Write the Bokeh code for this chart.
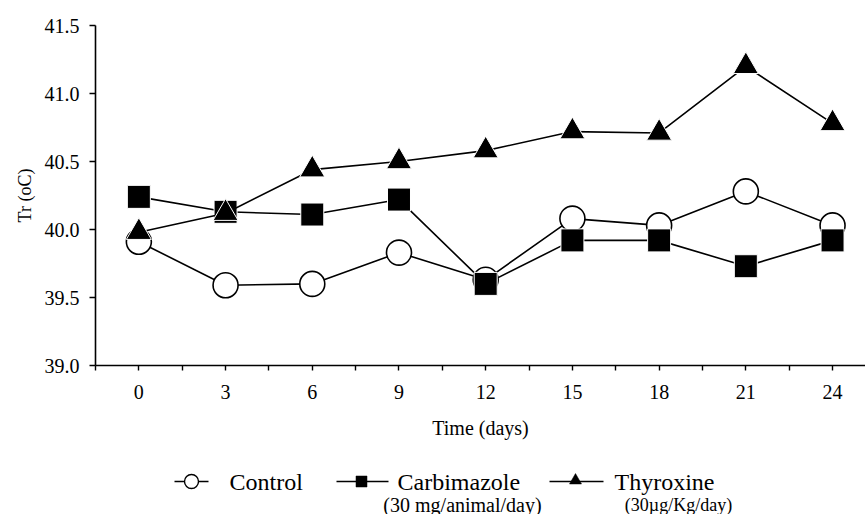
from bokeh.plotting import figure
from bokeh.layouts import column
from bokeh.models import Range1d, FixedTicker, NumeralTickFormatter
from bokeh.core.properties import value
from bokeh.embed import file_html
from bokeh.resources import INLINE

# ---- data ----
days = [0, 3, 6, 9, 12, 15, 18, 21, 24]
control = [39.91, 39.59, 39.60, 39.83, 39.63, 40.08, 40.03, 40.28, 40.03]
carbimazole = [40.24, 40.13, 40.11, 40.22, 39.60, 39.92, 39.92, 39.73, 39.92]
thyroxine = [39.98, 40.12, 40.44, 40.50, 40.58, 40.72, 40.71, 41.20, 40.78]
y_ticks = [39.0, 39.5, 40.0, 40.5, 41.0, 41.5]
x_minor_ticks = [-1.5, 1.5, 4.5, 7.5, 10.5, 13.5, 16.5, 19.5, 22.5]
series_names = ["Control", "Carbimazole", "Thyroxine"]
series_notes = ["(30 mg/animal/day)", "(30\u00b5g/Kg/day)"]
x_title = "Time (days)"
y_title = "Tr (oC)"

FONT_NAME = "'Liberation Serif'"
FONT = value("Liberation Serif")
W = 865
LEFT = 95

p = figure(width=W, height=450, x_range=Range1d(-1.5, 25.14), y_range=Range1d(39.0, 41.5),
           output_backend="svg", toolbar_location=None,
           min_border_left=LEFT, min_border_right=0, min_border_top=25, min_border_bottom=85)
p.outline_line_color = None
p.xgrid.visible = False
p.ygrid.visible = False
p.background_fill_color = "white"
p.border_fill_color = "white"

p.axis.axis_line_color = "black"
p.axis.axis_line_width = 1.6
p.axis.major_tick_line_color = "black"
p.axis.major_tick_line_width = 1.4
p.axis.minor_tick_line_color = "black"
p.axis.minor_tick_line_width = 1.4
p.axis.major_tick_in = 0
p.axis.major_tick_out = 5
p.axis.minor_tick_in = 0
p.axis.minor_tick_out = 5
p.axis.major_label_text_font = FONT_NAME
p.axis.major_label_text_font_size = "20px"
p.axis.major_label_text_color = "black"
p.axis.axis_label_text_font = FONT_NAME
p.axis.axis_label_text_font_style = "normal"
p.axis.axis_label_text_color = "black"

p.xaxis.ticker = FixedTicker(ticks=days, minor_ticks=x_minor_ticks)
p.xaxis.major_label_standoff = 14
p.xaxis.axis_label = x_title
p.xaxis.axis_label_text_font_size = "20px"
p.xaxis.axis_label_standoff = 15

p.yaxis.ticker = FixedTicker(ticks=y_ticks, minor_ticks=[])
p.yaxis.formatter = NumeralTickFormatter(format="0.0")
p.yaxis.major_tick_out = 6
p.yaxis.major_label_standoff = 10
p.yaxis.axis_label = y_title
p.yaxis.axis_label_text_font_size = "18px"
p.yaxis.axis_label_standoff = 7

LW = 1.6
p.line(days, control, line_color="black", line_width=LW)
p.scatter(days, control, marker="circle", size=25, fill_color="white", line_color="black", line_width=1.6)
p.line(days, carbimazole, line_color="black", line_width=LW)
p.scatter(days, carbimazole, marker="square", size=23, fill_color="black", line_color="white", line_width=1)
p.line(days, thyroxine, line_color="black", line_width=LW)
p.scatter(days, thyroxine, marker="triangle", size=25, fill_color="black", line_color="white", line_width=1)

# ---- legend (pixel-space figure, frame aligned with the main frame) ----
LH = 64
lg = figure(width=W, height=LH, x_range=Range1d(LEFT, W), y_range=Range1d(0, LH),
            output_backend="svg", toolbar_location=None,
            min_border_left=LEFT, min_border_right=0, min_border_top=0, min_border_bottom=0,
            x_axis_type=None, y_axis_type=None)
lg.outline_line_color = None
lg.background_fill_color = "white"
lg.border_fill_color = "white"

row_y = 33
note_y = 10
key_lines = [(174, 208), (336, 388), (549, 603)]
key_x = [191, 361, 575]
text_x = [229, 397, 614]
note_x = [462, 678]
note_sizes = ["20px", "18px"]

for (x0, x1) in key_lines:
    lg.line([x0, x1], [row_y, row_y], line_color="black", line_width=1.6)
lg.scatter([key_x[0]], [row_y], marker="circle", size=14, fill_color="white", line_color="black", line_width=1.4)
lg.scatter([key_x[1]], [row_y], marker="square", size=11, fill_color="black", line_color="black", line_width=0.5)
lg.scatter([key_x[2]], [row_y + 1], marker="triangle", size=12, fill_color="black", line_color="black", line_width=0.5)
lg.text(x=text_x, y=[row_y] * 3, text=series_names, text_font=FONT, text_font_size="24px",
        text_baseline="middle", text_align="left", text_color="black")
for nx, nt, ns in zip(note_x, series_notes, note_sizes):
    lg.text(x=[nx], y=[note_y], text=[nt], text_font=FONT, text_font_size=ns,
            text_baseline="middle", text_align="center", text_color="black")

layout = column(p, lg, spacing=0)
open("out.html", "w").write(file_html(layout, INLINE))
